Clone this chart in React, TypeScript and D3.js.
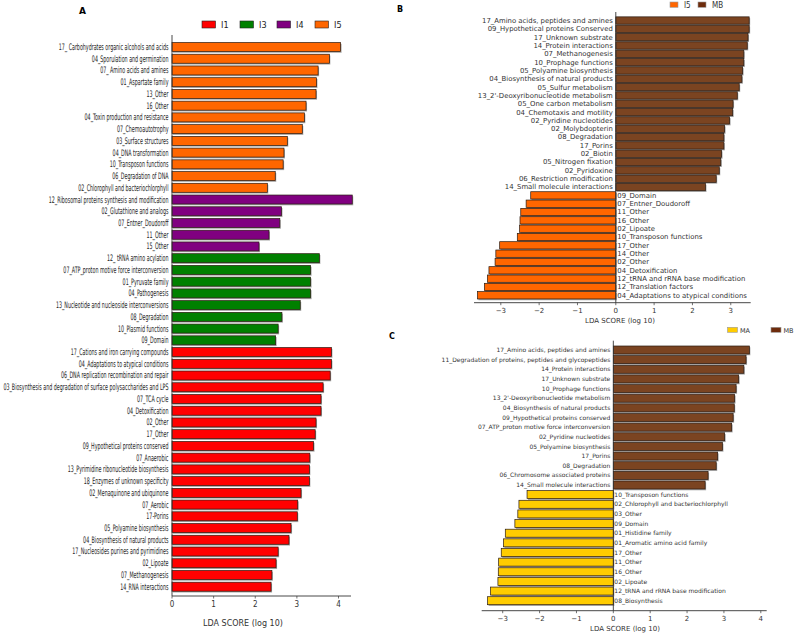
import React, { useRef, useEffect } from 'react';
import * as d3 from 'd3';

// Panel A: LDA scores by group
const aI5Names = ['17_ Carbohydrates organic alcohols and acids', '04_Sporulation and germination', '07_ Amino acids and amines', '01_Aspartate family', '13_Other', '16_Other', '04_Toxin production and resistance', '07_Chemoautotrophy', '03_Surface structures', '04_DNA transformation', '10_Transposon functions', '06_Degradation of DNA', '02_Chlorophyll and bacteriochlorphyll'];
const aI5Values = [4.05, 3.78, 3.51, 3.47, 3.46, 3.22, 3.18, 3.13, 2.77, 2.69, 2.67, 2.48, 2.29];
const aI4Names = ['12_Ribosomal proteins synthesis and modification', '02_Glutathione and analogs', '07_Entner_Doudoroff', '11_Other', '15_Other'];
const aI4Values = [4.33, 2.63, 2.59, 2.33, 2.09];
const aI3Names = ['12_ tRNA amino acylation', '07_ATP_proton motive force interconversion', '01_Pyruvate family', '04_Pathogenesis', '13_Nucleotide and nucleoside interconversions', '08_Degradation', '10_Plasmid functions', '09_Domain'];
const aI3Values = [3.54, 3.33, 3.33, 3.33, 3.08, 2.64, 2.55, 2.49];
const aI1Names = ['17_Cations and iron carrying compounds', '04_Adaptations to atypical conditions', '06_DNA replication  recombination and repair', '03_Biosynthesis and degradation of surface polysaccharides and LPS', '07_TCA cycle', '04_Detoxification', '02_Other', '17_Other', '09_Hypothetical proteins conserved', '07_Anaerobic', '13_Pyrimidine ribonucleotide biosynthesis', '18_Enzymes of unknown specificity', '02_Menaquinone and ubiquinone', '07_Aerobic', '17-Porins', '05_Polyamine biosynthesis', '04_Biosynthesis of natural products', '17_Nucleosides purines and pyrimidines', '02_Lipoate', '07_Methanogenesis', '14_RNA interactions'];
const aI1Values = [3.83, 3.83, 3.80, 3.63, 3.58, 3.58, 3.46, 3.44, 3.40, 3.31, 3.30, 3.30, 3.10, 3.02, 3.01, 2.86, 2.81, 2.55, 2.50, 2.40, 2.38];

// Panel B: I5 vs MB
const bMBNames = ['17_Amino acids, peptides and amines', '09_Hypothetical proteins Conserved', '17_Unknown substrate', '14_Protein interactions', '07_Methanogenesis', '10_Prophage functions', '05_Polyamine biosynthesis', '04_Biosynthesis of natural products', '05_Sulfur metabolism', "13_2'-Deoxyribonucleotide metabolism", '05_One carbon metabolism', '04_Chemotaxis and motility', '02_Pyridine nucleotides', '02_Molybdopterin', '08_Degradation', '17_Porins', '02_Biotin', '05_Nitrogen fixation', '02_Pyridoxine', '06_Restriction modification', '14_Small molecule interactions'];
const bMBValues = [3.48, 3.48, 3.45, 3.43, 3.34, 3.34, 3.31, 3.29, 3.22, 3.17, 3.06, 3.05, 2.97, 2.84, 2.82, 2.82, 2.76, 2.74, 2.70, 2.62, 2.34];
const bI5Names = ['09_Domain', '07_Entner_Doudoroff', '11_Other', '16_Other', '02_Lipoate', '10_Transposon functions', '17_Other', '14_Other', '02_Other', '04_Detoxification', '12_tRNA and rRNA base modification', '12_Translation factors', '04_Adaptations to atypical conditions'];
const bI5Values = [-2.22, -2.34, -2.48, -2.50, -2.51, -2.57, -3.03, -3.13, -3.15, -3.31, -3.35, -3.43, -3.61];

// Panel C: MA vs MB
const cMBNames = ['17_Amino acids, peptides and amines', '11_Degradation of proteins, peptides and glycopeptides', '14_Protein interactions', '17_Unknown substrate', '10_Prophage functions', "13_2'-Deoxyribonucleotide metabolism", '04_Biosynthesis of natural products', '09_Hypothetical proteins conserved', '07_ATP_proton motive force interconversion', '02_Pyridine nucleotides', '05_Polyamine biosynthesis', '17_Porins', '08_Degradation', '06_Chromosome associated proteins', '14_Small molecule interactions'];
const cMBValues = [3.69, 3.60, 3.54, 3.40, 3.33, 3.29, 3.28, 3.25, 3.21, 3.02, 2.96, 2.83, 2.79, 2.57, 2.49];
const cMANames = ['10_Transposon functions', '02_Chlorophyll and bacteriochlorphyll', '03_Other', '09_Domain', '01_Histidine family', '01_Aromatic amino acid family', '17_Other', '11_Other', '16_Other', '02_Lipoate', '12_tRNA and rRNA base modification', '08_Biosynthesis'];
const cMAValues = [-2.34, -2.56, -2.59, -2.67, -2.93, -2.98, -3.04, -3.11, -3.12, -3.13, -3.33, -3.41];

const NARROW = '"Liberation Sans Narrow", "DejaVu Sans Condensed", sans-serif';
const SANS = '"DejaVu Sans", sans-serif';

type Item = { name: string; value: number; color: string };

const mk = (names: string[], values: number[], color: string): Item[] =>
  names.map((n, i) => ({ name: n, value: values[i], color }));

function drawBars(g: any, items: Item[], x: any, y: any, barH: number) {
  const x0 = x(0);
  g.selectAll(null).data(items).enter().append('rect')
    .attr('x', (d: Item) => Math.min(x0, x(d.value)) + 1)
    .attr('y', (d: Item) => y(d.name) - barH / 2 + 1.3)
    .attr('width', (d: Item) => Math.abs(x(d.value) - x0))
    .attr('height', barH)
    .attr('fill', '#a8a8a8');
  g.selectAll(null).data(items).enter().append('rect')
    .attr('x', (d: Item) => Math.min(x0, x(d.value)))
    .attr('y', (d: Item) => y(d.name) - barH / 2)
    .attr('width', (d: Item) => Math.abs(x(d.value) - x0))
    .attr('height', barH)
    .attr('fill', (d: Item) => d.color)
    .attr('stroke', '#2a1a10')
    .attr('stroke-width', 0.7);
}

function drawAxis(g: any, x: any, yAxis: number, ticks: number[], font: string, size: number, title: string, titleX: number, titleY: number, titleSize: number) {
  const [a, b] = x.range();
  g.append('line').attr('x1', a).attr('x2', b).attr('y1', yAxis).attr('y2', yAxis)
    .attr('stroke', '#333').attr('stroke-width', 0.9);
  g.selectAll(null).data(ticks).enter().append('line')
    .attr('x1', (d: number) => x(d)).attr('x2', (d: number) => x(d))
    .attr('y1', yAxis).attr('y2', yAxis + 2.5)
    .attr('stroke', '#333').attr('stroke-width', 0.7);
  g.selectAll(null).data(ticks).enter().append('text')
    .attr('x', (d: number) => x(d)).attr('y', yAxis + size + 3)
    .attr('text-anchor', 'middle')
    .attr('font-family', font).attr('font-size', size).attr('fill', '#333')
    .text((d: number) => (d < 0 ? '\u2212' + Math.abs(d) : String(d)));
  g.append('text').attr('x', titleX).attr('y', titleY)
    .attr('text-anchor', 'middle').attr('font-family', SANS)
    .attr('font-size', titleSize).attr('fill', '#333').text(title);
}

function App() {
  const ref = useRef<SVGSVGElement>(null);
  useEffect(() => {
    const svg = d3.select(ref.current);
    svg.selectAll('*').remove();

    // ---------- Panel A ----------
    const aItems = [
      ...mk(aI5Names, aI5Values, '#ff6600'),
      ...mk(aI4Names, aI4Values, '#800080'),
      ...mk(aI3Names, aI3Values, '#008000'),
      ...mk(aI1Names, aI1Values, '#ff0000'),
    ];
    const gA = svg.append('g');
    const yA = d3.scalePoint().domain(aItems.map(d => d.name)).range([47, 586.7]);
    const xA = d3.scaleLinear().domain([0, 4.3]).range([172, 351]);
    drawBars(gA, aItems, xA, yA, 9);
    gA.append('line').attr('x1', 172).attr('x2', 172).attr('y1', 35).attr('y2', 596)
      .attr('stroke', '#333').attr('stroke-width', 0.9);
    const labA = gA.append('g').attr('transform', 'translate(168.5,0) scale(0.59,1)');
    labA.selectAll(null).data(aItems).enter().append('text')
      .attr('x', 0).attr('y', d => (yA(d.name) as number) + 3)
      .attr('text-anchor', 'end').attr('font-family', NARROW).attr('font-size', 9)
      .attr('fill', '#222').text(d => d.name);
    drawAxis(gA, xA, 596, [0, 1, 2, 3, 4], NARROW, 8, 'LDA SCORE (log 10)', 243, 626, 8);
    gA.append('text').attr('x', 79).attr('y', 14).attr('font-family', SANS)
      .attr('font-weight', 'bold').attr('font-size', 9).text('A');
    const legA = [
      { k: 'I1', c: '#ff0000', x: 202 },
      { k: 'I3', c: '#008000', x: 240 },
      { k: 'I4', c: '#800080', x: 277 },
      { k: 'I5', c: '#ff6600', x: 315 },
    ];
    legA.forEach(l => {
      gA.append('rect').attr('x', l.x).attr('y', 21).attr('width', 13.5).attr('height', 7)
        .attr('fill', l.c).attr('stroke', '#222').attr('stroke-width', 0.6);
      gA.append('text').attr('x', l.x + 19).attr('y', 27.5).attr('font-family', NARROW)
        .attr('font-size', 9).attr('fill', '#222').text(l.k);
    });

    // ---------- Panel B ----------
    const bItems = [...mk(bMBNames, bMBValues, '#7b4421'), ...mk(bI5Names, bI5Values, '#ff6600')];
    const gB = svg.append('g');
    const yB = d3.scalePoint().domain(bItems.map(d => d.name)).range([20.5, 295.3]);
    const xB = d3.scaleLinear().domain([-3.70, 3.52]).range([474, 750.7]);
    drawBars(gB, bItems, xB, yB, 7.3);
    gB.append('line').attr('x1', xB(0)).attr('x2', xB(0)).attr('y1', 12).attr('y2', 302.7)
      .attr('stroke', '#333').attr('stroke-width', 0.9);
    gB.selectAll(null).data(bItems).enter().append('text')
      .attr('x', d => (d.value > 0 ? xB(0) - 3 : xB(0) + 1.5))
      .attr('y', d => (yB(d.name) as number) + 2.4)
      .attr('text-anchor', d => (d.value > 0 ? 'end' : 'start'))
      .attr('font-family', SANS).attr('font-size', 6.9).attr('fill', '#333')
      .text(d => d.name);
    drawAxis(gB, xB, 302.7, [-3, -2, -1, 0, 1, 2, 3], SANS, 7, 'LDA SCORE (log 10)', 620, 322.5, 7);
    gB.append('text').attr('x', 397).attr('y', 11.7).attr('font-family', SANS)
      .attr('font-weight', 'bold').attr('font-size', 8).text('B');
    const legB = [
      { k: 'I5', c: '#ff6600', x: 670 },
      { k: 'MB', c: '#6e2c0c', x: 698 },
    ];
    legB.forEach(l => {
      gB.append('rect').attr('x', l.x).attr('y', 2).attr('width', 8).attr('height', 5.3)
        .attr('fill', l.c).attr('stroke', '#999').attr('stroke-width', 0.6);
      gB.append('text').attr('x', l.x + 14).attr('y', 7.5).attr('font-family', NARROW)
        .attr('font-size', 8).attr('fill', '#333').text(l.k);
    });

    // ---------- Panel C ----------
    const cItems = [...mk(cMBNames, cMBValues, '#7b4421'), ...mk(cMANames, cMAValues, '#ffcc00')];
    const gC = svg.append('g');
    const yC = d3.scalePoint().domain(cItems.map(d => d.name)).range([350, 600.7]);
    const xC = d3.scaleLinear().domain([-3.57, 4.16]).range([481.7, 766.7]);
    drawBars(gC, cItems, xC, yC, 8);
    gC.append('line').attr('x1', xC(0)).attr('x2', xC(0)).attr('y1', 340.7).attr('y2', 610.7)
      .attr('stroke', '#333').attr('stroke-width', 0.9);
    gC.selectAll(null).data(cItems).enter().append('text')
      .attr('x', d => (d.value > 0 ? xC(0) - 3 : xC(0) + 1))
      .attr('y', d => (yC(d.name) as number) + 2.1)
      .attr('text-anchor', d => (d.value > 0 ? 'end' : 'start'))
      .attr('font-family', SANS).attr('font-size', 6).attr('fill', '#333')
      .text(d => d.name);
    drawAxis(gC, xC, 610.7, [-3, -2, -1, 0, 1, 2, 3, 4], SANS, 7, 'LDA SCORE (log 10)', 625, 630.5, 7);
    gC.append('text').attr('x', 389).attr('y', 339).attr('font-family', SANS)
      .attr('font-weight', 'bold').attr('font-size', 8).text('C');
    const legC = [
      { k: 'MA', c: '#ffcc00', x: 727.5 },
      { k: 'MB', c: '#6e2c0c', x: 771 },
    ];
    legC.forEach(l => {
      gC.append('rect').attr('x', l.x).attr('y', 327.3).attr('width', 10).attr('height', 5)
        .attr('fill', l.c).attr('stroke', '#999').attr('stroke-width', 0.6);
      gC.append('text').attr('x', l.x + 12.5).attr('y', 332.5).attr('font-family', SANS)
        .attr('font-size', 6.5).attr('fill', '#333').text(l.k);
    });
  }, []);

  return (
    <svg ref={ref} width={794} height={634}
      style={{ position: 'absolute', left: 0, top: 0, background: '#fff' }} />
  );
}

export default App;
